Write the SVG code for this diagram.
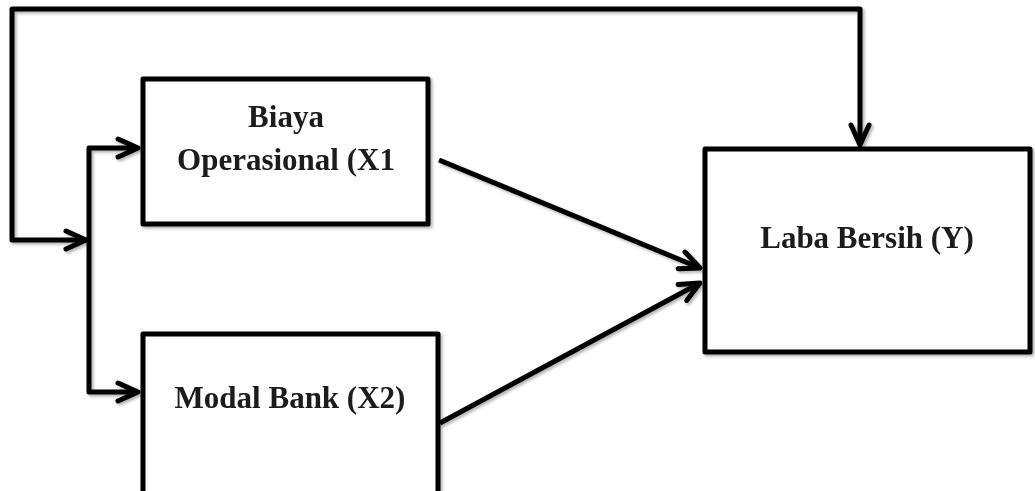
<svg xmlns="http://www.w3.org/2000/svg" width="1035" height="491" viewBox="0 0 1035 491">
<style>
.box{fill:#ffffff;stroke:#000000;stroke-width:5;stroke-linejoin:round}
.conn{fill:none;stroke:#000000;stroke-width:5;stroke-linejoin:round}
.lbl{font-family:"Liberation Serif","Times New Roman",serif;font-weight:bold;font-size:31px;fill:#1a1a1a;text-anchor:middle}
</style>
<defs>
<filter id="sh" x="-10%" y="-10%" width="120%" height="120%">
<feDropShadow dx="2" dy="2" stdDeviation="1.5" flood-color="#000000" flood-opacity="0.3"/>
</filter>
<marker id="arr" markerUnits="userSpaceOnUse" markerWidth="30" markerHeight="30" viewBox="-25 -15 30 30" refX="0" refY="0" orient="auto-start-reverse">
<path d="M -20,-9 L 0,0 L -20,9" fill="none" stroke="#000000" stroke-width="5" stroke-linecap="round" stroke-linejoin="round"/>
</marker>
</defs>
<g id="connectors" filter="url(#sh)">
<path class="conn" d="M 86,240 H 12 V 9 H 860 V 145" marker-start="url(#arr)" marker-end="url(#arr)"/>
<path class="conn" d="M 138,148 H 89 V 392 H 138" marker-start="url(#arr)" marker-end="url(#arr)"/>
<line class="conn" x1="439" y1="160" x2="700" y2="268" marker-end="url(#arr)"/>
<line class="conn" x1="440" y1="423" x2="700" y2="283" marker-end="url(#arr)"/>
</g>
<g id="node-x1" filter="url(#sh)">
<rect class="box" x="143" y="79" width="285" height="145"/>
<text class="lbl" x="286" y="127">Biaya</text>
<text class="lbl" x="286" y="170">Operasional (X1</text>
</g>
<g id="node-x2" filter="url(#sh)">
<rect class="box" x="143" y="334" width="295" height="170"/>
<text class="lbl" x="290" y="408">Modal Bank (X2)</text>
</g>
<g id="node-y" filter="url(#sh)">
<rect class="box" x="705" y="149" width="325" height="203"/>
<text class="lbl" x="867" y="248">Laba Bersih (Y)</text>
</g>
</svg>
